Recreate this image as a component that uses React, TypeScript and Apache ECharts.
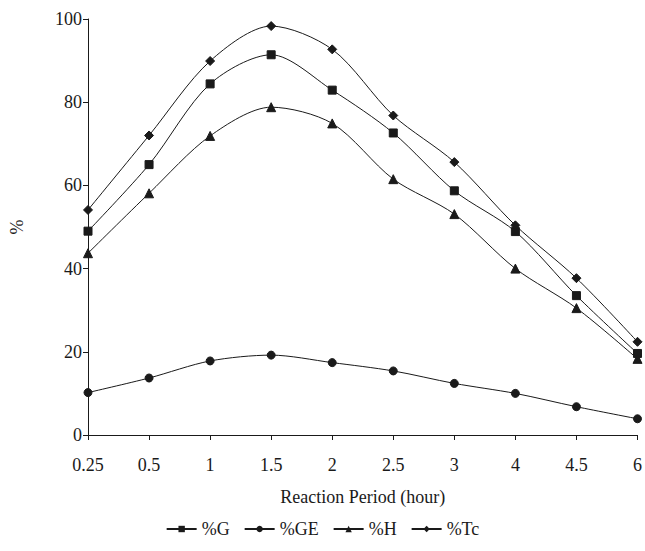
import React, { useEffect, useRef } from "react";
import * as echarts from "echarts";

const categories = ["0.25", "0.5", "1", "1.5", "2", "2.5", "3", "4", "4.5", "6"];
const seriesG = [49.0, 65.0, 84.4, 91.4, 82.9, 72.6, 58.7, 48.9, 33.5, 19.6];
const seriesGE = [10.2, 13.7, 17.8, 19.2, 17.4, 15.4, 12.4, 10.0, 6.8, 3.9];
const seriesH = [43.7, 58.1, 71.9, 78.8, 74.9, 61.5, 53.1, 40.0, 30.5, 18.3];
const seriesTc = [54.1, 72.0, 89.9, 98.3, 92.7, 76.8, 65.6, 50.4, 37.7, 22.4];
const yTicks = { min: 0, max: 100, interval: 20 };

const FONT = "serif";
const INK = "#1a1a1a";

export default function App() {
  const ref = useRef<HTMLDivElement>(null);
  useEffect(() => {
    const chart = echarts.init(ref.current!, null, { renderer: "svg" });
    const mk = (name: string, data: number[], symbol: string, size: number) => ({
      name,
      type: "line",
      data,
      smooth: 0.3,
      symbol,
      symbolSize: size,
      showAllSymbol: true,
      lineStyle: { color: INK, width: 1 },
      itemStyle: { color: INK, borderColor: INK },
    });
    chart.setOption({
      animation: false,
      backgroundColor: "#fff",
      textStyle: { fontFamily: FONT },
      grid: { left: 84, right: 6, top: 19, bottom: 116, containLabel: false },
      legend: {
        bottom: 8,
        left: "center",
        itemWidth: 30,
        itemHeight: 8,
        itemGap: 14,
        textStyle: { fontFamily: FONT, fontSize: 18, color: INK },
        data: ["%G", "%GE", "%H", "%Tc"],
      },
      xAxis: {
        type: "category",
        data: categories,
        boundaryGap: false,
        name: "Reaction Period (hour)",
        nameLocation: "middle",
        nameGap: 53,
        nameTextStyle: { fontFamily: FONT, fontSize: 18, color: INK },
        axisLine: { lineStyle: { color: INK, width: 1 } },
        axisTick: { show: true, length: 5, lineStyle: { color: INK } },
        axisLabel: { fontFamily: FONT, fontSize: 18, color: INK, margin: 21, hideOverlap: false },
        splitLine: { show: false },
      },
      yAxis: {
        type: "value",
        min: yTicks.min,
        max: yTicks.max,
        interval: yTicks.interval,
        name: "%",
        nameLocation: "middle",
        nameGap: 62,
        nameRotate: 90,
        nameTextStyle: { fontFamily: FONT, fontSize: 18, color: INK },
        axisLine: { show: true, lineStyle: { color: INK, width: 1 } },
        axisTick: { show: true, length: 5, lineStyle: { color: INK } },
        axisLabel: { fontFamily: FONT, fontSize: 18, color: INK, margin: 6 },
        splitLine: { show: false },
      },
      series: [
        mk("%G", seriesG, "rect", 8),
        mk("%GE", seriesGE, "circle", 8),
        mk("%H", seriesH, "triangle", 9),
        mk("%Tc", seriesTc, "diamond", 9),
      ],
    });
    return () => chart.dispose();
  }, []);
  return (
    <div
      ref={ref}
      style={{ position: "fixed", left: 0, top: 0, width: 645, height: 551 }}
    />
  );
}
